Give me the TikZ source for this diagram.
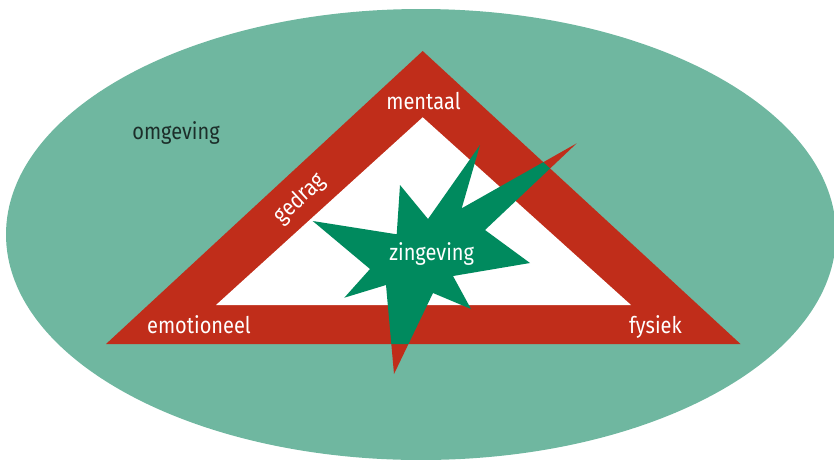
\documentclass[tikz,border=0pt]{standalone}
\usepackage{fontspec}
\setmainfont[FakeStretch=0.87]{Fira Sans}
\definecolor{envteal}{RGB}{111,183,160}
\definecolor{bandred}{RGB}{192,45,26}
\definecolor{stargreen}{RGB}{0,138,94}
\definecolor{darktext}{RGB}{28,46,42}
\begin{document}
\begin{tikzpicture}[x=1pt,y=-1pt,
  label/.style={font=\fontsize{23}{23}\selectfont, text=white, inner sep=0pt, anchor=base},
  envlabel/.style={label, text=darktext}]
\useasboundingbox (0,0) rectangle (834,459);
% surroundings
\fill[envteal] (421,234.5) ellipse [x radius=415, y radius=225.5];
% the burst, outline shared by both colourings
\def\burst{(480,145) -- (461.7,208.3) -- (576.7,143.3) -- (485,230) -- (530,263)
  -- (453,276) -- (471,309) -- (433,293) -- (394,374) -- (386,285)
  -- (344.3,297.7) -- (370,269) -- (312.7,221) -- (396.7,234.3)
  -- (400,185) -- (428,219) -- cycle}
% burst outside the triangle
\fill[bandred] \burst;
% triangle band and its white interior
\fill[bandred] (422.7,51) -- (740.5,344) -- (106,344) -- cycle;
\fill[white] (422.7,117.3) -- (631,305) -- (216,305) -- cycle;
% burst inside the triangle
\begin{scope}
  \clip (422.7,51) -- (740.5,344) -- (106,344) -- cycle;
  \fill[stargreen] \burst;
\end{scope}
% labels
\node[envlabel] (omgeving) at (176,139.5) {omgeving};
\node[label] (mentaal) at (423.5,109.5) {mentaal};
\node[label, anchor=center, rotate=42.8] (gedrag) at (300,199) {gedrag};
\node[label] (emotioneel) at (199,333.5) {emotioneel};
\node[label] (fysiek) at (655.5,333.5) {fysiek};
\node[label] (zingeving) at (431.7,260.7) {zingeving};
\end{tikzpicture}
\end{document}
